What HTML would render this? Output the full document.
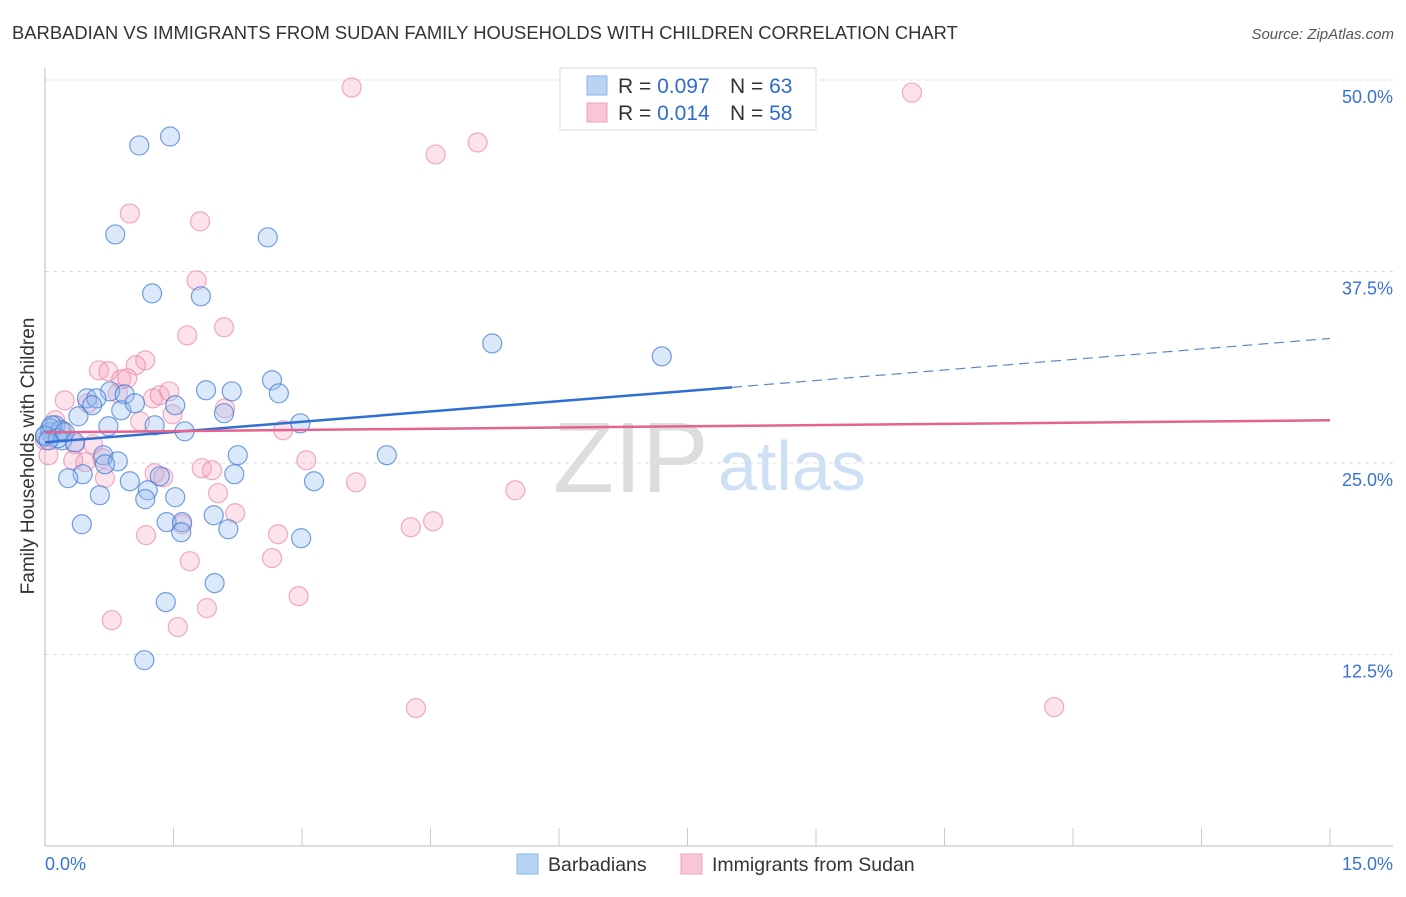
<!DOCTYPE html>
<html><head><meta charset="utf-8">
<style>
body{margin:0;background:#fff;font-family:"Liberation Sans",sans-serif;}
svg text{font-family:"Liberation Sans",sans-serif;}
</style></head>
<body>
<svg id="chart" width="1406" height="892" viewBox="0 0 1406 892" xmlns="http://www.w3.org/2000/svg">
<text x="12" y="39" font-size="18.4" fill="#333">BARBADIAN VS IMMIGRANTS FROM SUDAN FAMILY HOUSEHOLDS WITH CHILDREN CORRELATION CHART</text>
<text x="1394" y="39" font-size="15" fill="#555" text-anchor="end" font-style="italic">Source: ZipAtlas.com</text>
<g id="grid"></g>
<g>
<text x="553" y="492" font-size="100" fill="#ddd" font-family="Liberation Serif, serif">ZIP</text>
<text x="718" y="490" font-size="70" fill="#cfe0f5">atlas</text>
</g>
<g id="axes"></g>
<g id="points"></g>
<g id="lines"></g>
<text transform="translate(34,456) rotate(-90)" font-size="19" fill="#333" text-anchor="middle">Family Households with Children</text>
<g>
<rect x="560" y="68" width="256" height="62" fill="#fff" stroke="#ddd"/>
<rect x="587" y="76" width="20" height="19" fill="#b8d3f4" stroke="#8ab4e8"/>
<text x="618" y="93" font-size="21" fill="#333">R = <tspan fill="#2f6bd1">0.097</tspan></text>
<text x="730" y="93" font-size="21" fill="#333">N = <tspan fill="#2f6bd1">63</tspan></text>
<rect x="587" y="103" width="20" height="19" fill="#f8c6d5" stroke="#f0a0ba"/>
<text x="618" y="120" font-size="21" fill="#333">R = <tspan fill="#2f6bd1"> 0.014</tspan></text>
<text x="730" y="120" font-size="21" fill="#333">N = <tspan fill="#2f6bd1">58</tspan></text>
</g>
<g>
<rect x="517" y="854" width="21" height="20" fill="#b8d3f4" stroke="#8ab4e8"/>
<text x="548" y="871" font-size="19.5" fill="#333">Barbadians</text>
</g>
<g>
<rect x="681" y="854" width="21" height="20" fill="#f8c6d5" stroke="#f0a0ba"/>
<text x="712" y="871" font-size="19.5" fill="#333">Immigrants from Sudan</text>
</g>
</svg>
<script>
const yTicks=[12.5,25,37.5,50];
const yTickLabels=["12.5%","25.0%","37.5%","50.0%"];
const xTickLabels=["0.0%","15.0%"];
const blueX=[1.10,1.46,0.82,2.60,1.25,1.82,5.22,7.20,0.76,0.93,1.88,2.18,2.65,2.73,0.49,0.60,0.55,0.39,0.89,1.05,1.52,2.09,2.98,0.12,0.06,0.20,0.35,0.74,1.28,1.63,2.25,0.68,0.85,0.70,0.44,0.27,2.21,3.14,0.99,1.34,1.20,1.52,0.64,1.17,1.97,1.42,1.60,0.43,1.59,2.14,2.99,1.98,1.41,1.16,3.99,0.06,0.00,0.18,0.00,0.08,0.15,0.04,0.23];
const blueY=[45.73,46.31,39.92,39.73,36.07,35.88,32.81,31.96,29.68,29.48,29.75,29.68,30.40,29.55,29.22,29.22,28.77,28.05,28.44,28.90,28.77,28.25,27.59,27.46,27.01,26.48,26.35,27.40,27.46,27.07,25.51,25.51,25.11,24.92,24.27,24.01,24.27,23.81,23.81,24.14,23.22,22.77,22.90,22.64,21.59,21.14,21.14,21.00,20.48,20.68,20.09,17.16,15.92,12.13,25.51,27.27,26.74,27.14,26.80,27.46,26.61,26.48,27.01];
const pinkX=[3.58,10.12,4.56,5.05,0.99,1.81,1.77,2.09,1.66,1.17,1.06,0.63,0.74,0.89,0.96,0.85,0.23,0.50,1.26,1.34,1.45,2.10,1.49,1.11,2.78,0.56,0.35,0.67,0.47,0.33,3.05,1.83,1.95,1.28,1.38,0.70,3.63,5.49,2.02,2.22,4.53,4.27,1.60,1.18,2.72,2.65,1.69,2.96,1.89,1.55,0.78,4.33,11.78,0.00,0.04,0.12,0.20];
const pinkY=[49.51,49.18,45.14,45.92,41.29,40.77,36.92,33.86,33.33,31.70,31.38,31.05,30.99,30.46,30.53,29.55,29.09,28.90,29.22,29.42,29.68,28.57,28.18,27.72,27.14,26.22,26.22,25.31,25.05,25.18,25.18,24.66,24.53,24.33,24.07,24.01,23.74,23.22,23.03,21.72,21.20,20.81,21.00,20.29,20.35,18.79,18.59,16.31,15.53,14.29,14.74,9.00,9.07,26.48,25.51,27.79,27.14];
const blueTrend=[26.35,29.94,33.13]; // at x=0, x=8.02 (solid end), x=15
const blueSolidEnd=8.02;
const pinkTrend=[27.0,27.79]; // at x=0, x=15

const NS="http://www.w3.org/2000/svg";
const X=v=>45+v*(1285/15);
const Y=v=>846-v*(766/50);
function mk(tag,attrs,parent){const e=document.createElementNS(NS,tag);for(const k in attrs)e.setAttribute(k,attrs[k]);parent.appendChild(e);return e;}
const grid=document.getElementById('grid'),axes=document.getElementById('axes'),pts=document.getElementById('points'),lines=document.getElementById('lines');
yTicks.forEach((t,i)=>{
 const l=mk('line',{x1:45,x2:1393,y1:Y(t),y2:Y(t),stroke:'#ddd','stroke-dasharray':'4,4'},grid);
 
 
 const tx=mk('text',{x:1393,y:Y(t)+23,'font-size':18,fill:'#3a72d4','text-anchor':'end'},axes);
 tx.textContent=yTickLabels[i];
 
 
});
const ax=mk('line',{x1:45,x2:1393,y1:846,y2:846,stroke:'#bbb'},axes);


const ay=mk('line',{x1:45,x2:45,y1:68,y2:846,stroke:'#bbb'},axes);


for(let i=1;i<=10;i++){
 const t=mk('line',{x1:X(i*1.5),x2:X(i*1.5),y1:828,y2:846,stroke:'#ccc'},axes);
 
 
}
const xl0=mk('text',{x:45,y:870,'font-size':18,fill:'#3a72d4'},axes);
xl0.textContent=xTickLabels[0];


const xl1=mk('text',{x:1393,y:870,'font-size':18,fill:'#3a72d4','text-anchor':'end'},axes);
xl1.textContent=xTickLabels[1];


pinkX.forEach((v,i)=>{
 const c=mk('circle',{cx:X(v),cy:Y(pinkY[i]),r:9.5,fill:'rgba(244,160,188,0.3)',stroke:'rgba(232,120,160,0.6)','stroke-width':1.2},pts);
 
 
});
blueX.forEach((v,i)=>{
 const c=mk('circle',{cx:X(v),cy:Y(blueY[i]),r:9.5,fill:'rgba(150,190,240,0.35)',stroke:'rgba(60,120,210,0.7)','stroke-width':1.2},pts);
 
 
});
const b1=mk('line',{x1:X(0),y1:Y(blueTrend[0]),x2:X(blueSolidEnd),y2:Y(blueTrend[1]),stroke:'#2f6fd6','stroke-width':2.5},lines);


const b2=mk('line',{x1:X(blueSolidEnd),y1:Y(blueTrend[1]),x2:X(15),y2:Y(blueTrend[2]),stroke:'#5a88d0','stroke-width':1.2,'stroke-dasharray':'10,6'},lines);


const p1=mk('line',{x1:X(0),y1:Y(pinkTrend[0]),x2:X(15),y2:Y(pinkTrend[1]),stroke:'#e5648f','stroke-width':2.5},lines);


</script>
</body></html>
